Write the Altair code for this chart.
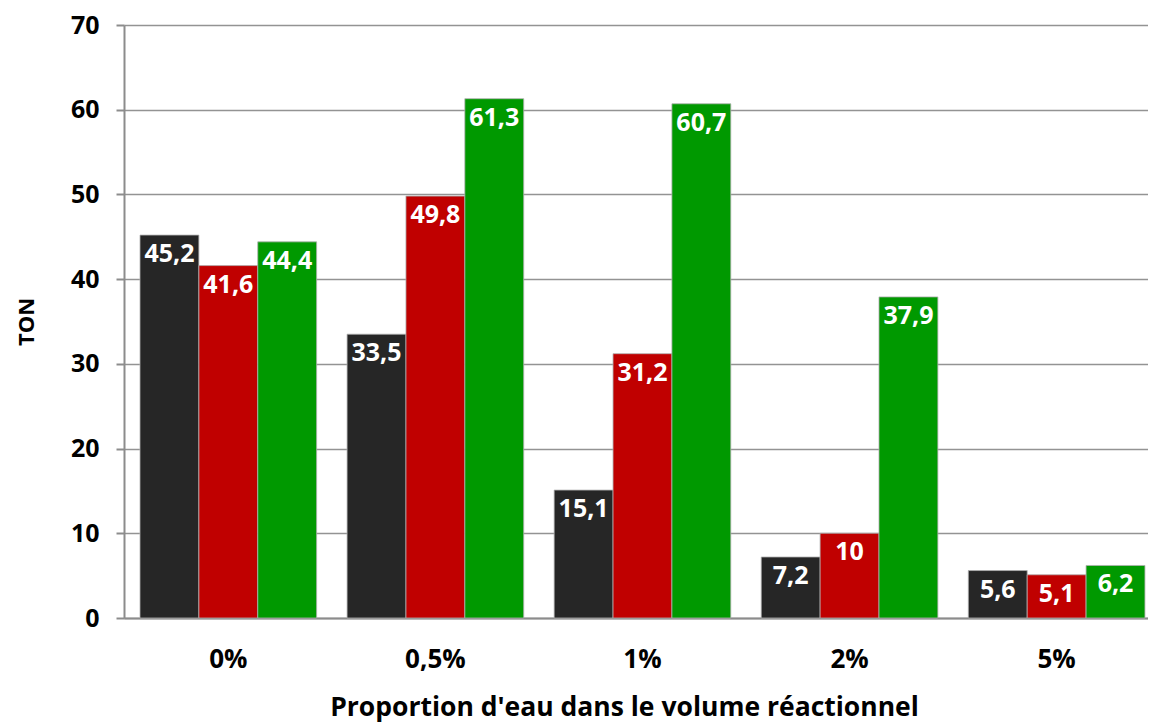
import altair as alt
import pandas as pd

categories = ["0%", "0,5%", "1%", "2%", "5%"]
series = ["Série 1", "Série 2", "Série 3"]
serie1 = [45.2, 33.5, 15.1, 7.2, 5.6]
serie2 = [41.6, 49.8, 31.2, 10, 5.1]
serie3 = [44.4, 61.3, 60.7, 37.9, 6.2]
colors = ["#262626", "#C00000", "#009900"]

rows = []
for s, vals in zip(series, [serie1, serie2, serie3]):
    for c, v in zip(categories, vals):
        rows.append({"cat": c, "serie": s, "val": v, "lab": f"{v:g}".replace(".", ",")})
df = pd.DataFrame(rows)

FONT = "Open Sans"

base = alt.Chart(df).encode(
    x=alt.X(
        "cat:N",
        sort=categories,
        scale=alt.Scale(paddingInner=0.147, paddingOuter=0.046, align=0.84),
        axis=alt.Axis(
            title="Proportion d'eau dans le volume réactionnel",
            labelAngle=0,
            ticks=False,
            labelPadding=28,
            labelFontSize=26,
            labelFont=FONT,
            labelFontWeight="bold",
            labelColor="black",
            titleFontSize=26.5,
            titleFont=FONT,
            titleFontWeight="bold",
            titleColor="black",
            titlePadding=22,
            titleX=500,
            titleAlign="center",
            domainColor="#8c8c8c",
            domainWidth=2,
            grid=False,
        ),
    ),
    xOffset=alt.XOffset("serie:N", sort=series, scale=alt.Scale(paddingInner=0, paddingOuter=0)),
    y=alt.Y(
        "val:Q",
        scale=alt.Scale(domain=[0, 70], nice=False),
        axis=alt.Axis(
            title="TON",
            values=[0, 10, 20, 30, 40, 50, 60, 70],
            tickSize=8,
            tickColor="#8c8c8c",
            tickWidth=2,
            domainColor="#8c8c8c",
            domainWidth=2,
            grid=True,
            gridColor="#939393",
            gridWidth=1.5,
            labelPadding=17,
            labelFontSize=25,
            labelFont=FONT,
            labelFontWeight="bold",
            labelColor="black",
            titleFontSize=22,
            titleFont=FONT,
            titleFontWeight="bold",
            titleColor="black",
            titlePadding=32,
        ),
    ),
)

bars = base.mark_bar(stroke="#b0b0b0", strokeWidth=0.8).encode(
    color=alt.Color("serie:N", sort=series, scale=alt.Scale(domain=series, range=colors), legend=None)
)

labels = base.mark_text(
    baseline="top", dy=7, color="white", font=FONT, fontWeight="bold", fontSize=25
).encode(text="lab:N")

chart = (
    alt.layer(bars, labels)
    .properties(
        width=1024,
        height=593,
        padding={"left": 116, "top": 17, "right": 0, "bottom": 104},
        autosize=alt.AutoSizeParams(type="none"),
    )
    .configure_view(stroke=None)
    .configure(background="white")
)

chart.save("out.html", embed_options={"renderer": "svg", "actions": False})
